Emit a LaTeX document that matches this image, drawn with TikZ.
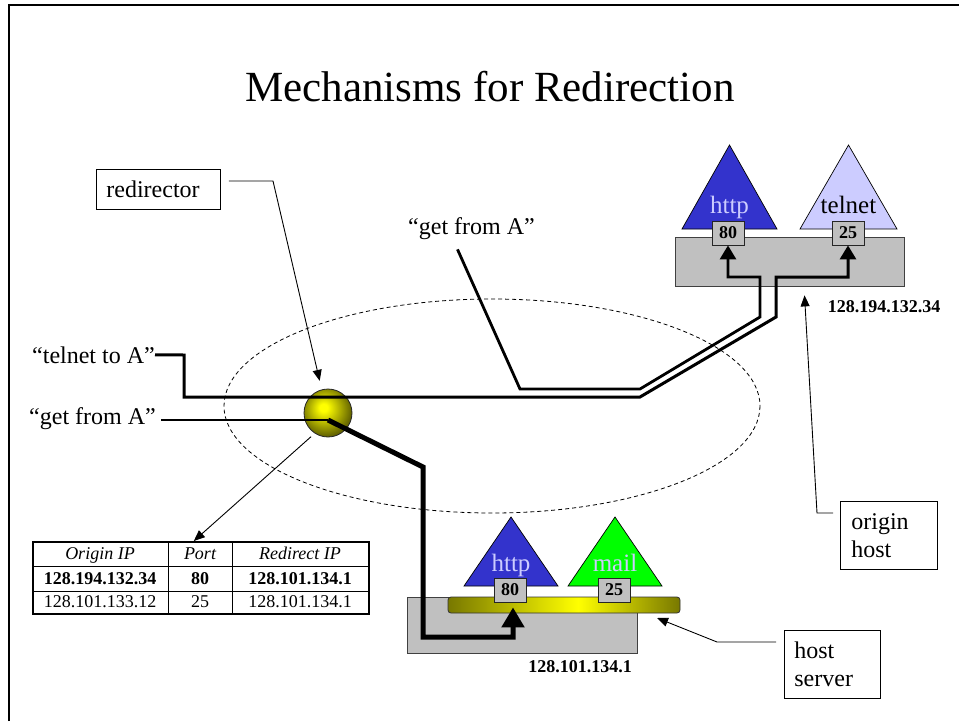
\documentclass[tikz,border=0pt]{standalone}
\usepackage{fontspec}
\setmainfont{Liberation Serif}
\usetikzlibrary{arrows.meta}

\definecolor{hostgray}{RGB}{192,192,192}
\definecolor{svcblue}{RGB}{51,51,204}
\definecolor{svclav}{RGB}{204,204,255}
\definecolor{svcgreen}{RGB}{0,255,0}
\definecolor{barolive}{RGB}{120,120,0}
\definecolor{ballolive}{RGB}{100,100,0}
\definecolor{ballyellow}{RGB}{255,255,0}

% yellow sphere of the redirector, highlight a little up and to the left
\pgfdeclareradialshading{redirball}{\pgfpoint{-5bp}{6bp}}{%
  color(0bp)=(ballyellow); color(4bp)=(ballyellow);
  color(27bp)=(ballolive); color(60bp)=(ballolive)}
% host server bus: olive at both ends, bright yellow just right of centre
\pgfdeclarehorizontalshading{barshade}{100bp}{%
  color(0bp)=(barolive); color(25bp)=(barolive);
  color(53bp)=(ballyellow); color(75bp)=(barolive); color(100bp)=(barolive)}

\begin{document}
\begin{tikzpicture}[x=1pt,y=-1pt,
  txt/.style={inner sep=0pt, font=\fontsize{24}{28}\selectfont},
  svclabel/.style={inner sep=0pt, anchor=base, font=\fontsize{25}{28}\selectfont},
  iplabel/.style={inner sep=0pt, anchor=base, font=\fontsize{18}{21}\selectfont\bfseries},
  cell/.style={inner sep=0pt, anchor=base, font=\fontsize{18}{21}\selectfont},
  port/.style={draw=black!85, fill=hostgray, minimum width=32pt, minimum height=24pt,
    inner sep=0pt, line width=0.8pt, font=\fontsize{18}{21}\selectfont\bfseries},
  hostbox/.style={draw=black!75, fill=hostgray, inner sep=0pt, line width=0.8pt},
  callbox/.style={draw, line width=0.8pt, anchor=north west, align=left,
    font=\fontsize{24}{28}\selectfont},
  callout/.style={line width=0.9pt, -{Triangle[length=11pt,width=9pt]}},
  flow/.style={line width=2.8pt},
  portarrow/.style={line width=3pt, -{Triangle[length=14pt,width=16pt]}},
  bigflow/.style={line width=5pt, -{Triangle[length=20pt,width=22pt]}},
  svctri/.style={draw=black, line width=0.7pt}]

\useasboundingbox (0,0) rectangle (959,721);

% page frame
\draw[line width=2.5pt] (9,721) -- (9,5) -- (959,5);

% title
\node[inner sep=0pt, anchor=base, font=\fontsize{43}{48}\selectfont] (title) at (490,101)
  {Mechanisms for Redirection};

% the network cloud
\draw[dashed, dash pattern=on 4pt off 3pt, line width=0.8pt] (492,406) ellipse (268 and 107);

% ---------- origin host 128.194.132.34 ----------
\node[hostbox, minimum width=229pt, minimum height=49pt] (hostA) at (789.5,261.5) {};
\draw[svctri, fill=svcblue] (682,229) -- (729.5,145) -- (777,229) -- cycle;
\draw[svctri, fill=svclav] (800,229) -- (848.5,145) -- (897,229) -- cycle;
\node[svclabel, text=svclav] (httpA) at (729.5,213) {http};
\node[svclabel] (telnetA) at (848.5,213) {telnet};
\node[port] (pA80) at (728,233) {80};
\node[port] (pA25) at (848,233) {25};
\node[iplabel] (ipA) at (884,312) {128.194.132.34};

% ---------- host server 128.101.134.1 ----------
\node[hostbox, minimum width=230pt, minimum height=56pt] (hostB) at (522,625) {};
\shade[shading=barshade, draw=black!80, line width=0.8pt, rounded corners=3pt]
  (448,597) rectangle (680,613);
\coordinate (bar) at (564,605);
\coordinate (barSE) at (680,613);
\draw[svctri, fill=svcblue] (464,586) -- (511,517) -- (558,586) -- cycle;
\draw[svctri, fill=svcgreen] (568,586) -- (615,517) -- (662,586) -- cycle;
\node[svclabel, text=svclav] (httpB) at (511,571) {http};
\node[svclabel, text=svclav] (mailB) at (615,571) {mail};
\node[port] (pB80) at (510,590) {80};
\node[port] (pB25) at (614,590) {25};
\node[iplabel] (ipB) at (580,672) {128.101.134.1};

% ---------- redirection table ----------
\node[draw, line width=1.6pt, minimum width=336pt, minimum height=72pt, inner sep=0pt,
  anchor=north west] (table) at (32,541) {};
\draw[line width=0.8pt] (32,566) -- (368,566) (32,591) -- (368,591)
  (168,541) -- (168,613) (232,541) -- (232,613);
\node[cell, font=\fontsize{18}{21}\selectfont\itshape] (h1) at (100,559.5) {Origin IP};
\node[cell, font=\fontsize{18}{21}\selectfont\itshape] (h2) at (200,559.5) {Port};
\node[cell, font=\fontsize{18}{21}\selectfont\itshape] (h3) at (300,559.5) {Redirect IP};
\node[cell, font=\fontsize{18}{21}\selectfont\bfseries] (r1a) at (100,584.5) {128.194.132.34};
\node[cell, font=\fontsize{18}{21}\selectfont\bfseries] (r1b) at (200,584.5) {80};
\node[cell, font=\fontsize{18}{21}\selectfont\bfseries] (r1c) at (300,584.5) {128.101.134.1};
\node[cell] (r2a) at (100,607.5) {128.101.133.12};
\node[cell] (r2b) at (200,607.5) {25};
\node[cell] (r2c) at (300,607.5) {128.101.134.1};

% ---------- requests ----------
\node[txt, anchor=base east] (lblT) at (155,363) {“telnet to A”};
\node[txt, anchor=base east] (lblG2) at (156,424) {“get from A”};
\node[txt, anchor=base east] (lblG1) at (535,234) {“get from A”};

% redirector
\shade[shading=redirball, draw=black!85, line width=0.8pt] (328,413) circle (24);
\node[circle, minimum size=48pt, inner sep=0pt] (ball) at (328,413) {};
\coordinate (gin) at ([yshift=-7pt]ball.center);

% telnet request goes straight through to the origin host
\draw[flow, -{Triangle[length=14pt,width=16pt]}, line width=3pt]
  (lblT.east) -- (184,355) -- (184,397) -- (640,397) -- (776,317) -- (776,277) -| (pA25.south);
% http request seen by the origin host
\draw[flow, -{Triangle[length=14pt,width=16pt]}]
  ([shift={(-14,10)}]lblG1.south) -- (520,389) -- (640,389) -- (760,317) -- (760,277) -| (pA80.south);
% http request caught by the redirector and sent to the host server
\draw[flow] ([xshift=5pt]lblG2.east |- gin) -- (gin);
\draw[bigflow] (gin) -- (423,467) -- (423,637) -| ([shift={(3,5)}]pB80.south);

% ---------- callouts ----------
\node[callbox, text width=104pt, inner xsep=10pt, minimum height=40pt] (redir) at (96,169) {redirector};
\node[callbox, text width=75pt, inner xsep=11pt, minimum height=68pt] (origin) at (840,501) {origin\\host};
\node[callbox, text width=76pt, inner xsep=10pt, minimum height=68pt] (srv) at (784,630) {host\\server};

\draw[callout, shorten >=9pt] ([xshift=8pt]redir.east |- 0,181) -- (273,181) -- (ball.105);
\draw[callout, shorten <=5pt] (ball.237) -- ([xshift=-7pt]table.north);
\draw[callout, shorten >=9pt] ([xshift=-7pt]origin.west |- 0,513) -- (817,513) -- ([xshift=14.5pt]hostA.south);
\draw[callout] ([xshift=-8pt]srv.west |- 0,642) -- (717,642) -- ([shift={(-23,5)}]barSE);

\end{tikzpicture}
\end{document}
